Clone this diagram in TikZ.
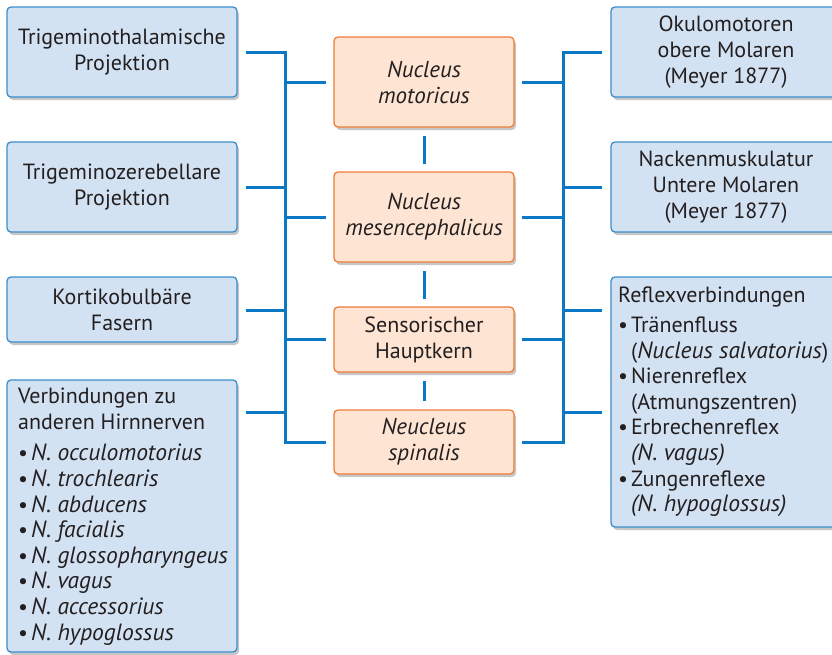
\documentclass[tikz,border=0pt]{standalone}
\usepackage{fontspec}
\setmainfont{PT Sans}
\usetikzlibrary{shadows}
\definecolor{bfill}{HTML}{D3E2F2}
\definecolor{bdraw}{HTML}{3C8DCB}
\definecolor{ofill}{HTML}{FDE4D3}
\definecolor{odraw}{HTML}{EF7D3A}
\definecolor{conn}{HTML}{0A78C2}
\definecolor{txt}{HTML}{231F20}
\newcommand{\bul}{\makebox[13pt][l]{•}}
\newcommand{\li}[1]{{\fontsize{23.5}{25.6}\selectfont\itshape #1}}
\newcommand{\ci}[1]{{\fontsize{23}{26}\selectfont\itshape #1}}
\begin{document}
\begin{tikzpicture}[x=1pt,y=-1pt,
  boxbase/.style={line width=1.3pt, rounded corners=4pt, inner sep=0pt, text=txt, align=center,
    font=\fontsize{22}{26}\selectfont,
    drop shadow={shadow xshift=2pt, shadow yshift=-3pt, opacity=0.22, fill=black}},
  bluebox/.style={boxbase, draw=bdraw, fill=bfill},
  orangebox/.style={boxbase, draw=odraw, fill=ofill},
  listtext/.style={anchor=north west, inner sep=0pt, align=left, text=txt, font=\fontsize{22}{25.6}\selectfont},
  conn/.style={draw=conn, line width=3pt}]
\useasboundingbox (0,0) rectangle (832,654);
\clip (0,0) rectangle (832,654);
% left
\node[bluebox, minimum width=230pt, minimum height=90pt] (L1) at (122,52) {Trigeminothalamische\\Projektion};
\node[bluebox, minimum width=230pt, minimum height=90pt] (L2) at (122,187) {Trigeminozerebellare\\Projektion};
\node[bluebox, minimum width=230pt, minimum height=65pt] (L3) at (122,309.5) {Kortikobulbäre\\Fasern};
\node[bluebox, minimum width=230pt, minimum height=272pt] (L4) at (122,516) {};
\node[listtext] (L4t) at (18,388) {Verbindungen zu\\anderen Hirnnerven\\[6pt]
\bul\li{N. occulomotorius}\\
\bul\li{N. trochlearis}\\
\bul\li{N. abducens}\\
\bul\li{N. facialis}\\
\bul\li{N. glossopharyngeus}\\
\bul\li{N. vagus}\\
\bul\li{N. accessorius}\\
\bul\li{N. hypoglossus}};
% centre
\node[orangebox, minimum width=180pt, minimum height=90pt] (C1) at (424,82) {\ci{Nucleus}\\\ci{motoricus}};
\node[orangebox, minimum width=180pt, minimum height=90pt] (C2) at (424,217) {\ci{Nucleus}\\\ci{mesencephalicus}};
\node[orangebox, minimum width=180pt, minimum height=65pt] (C3) at (424,339.5) {Sensorischer\\Hauptkern};
\node[orangebox, minimum width=180pt, minimum height=64pt] (C4) at (424,442) {\ci{Neucleus}\\\ci{spinalis}};
% right
\node[bluebox, minimum width=230pt, minimum height=90pt] (R1) at (726,52) {Okulomotoren\\obere Molaren\\(Meyer 1877)};
\node[bluebox, minimum width=230pt, minimum height=90pt] (R2) at (726,187) {Nackenmuskulatur\\Untere Molaren\\(Meyer 1877)};
\node[bluebox, minimum width=230pt, minimum height=250pt] (R3) at (726,402) {};
\node[listtext] (R3t) at (618,287) {Reflexverbindungen\\[4pt]
\bul Tränenfluss\\
\hspace*{13pt}(\li{Nucleus salvatorius})\\
\bul Nierenreflex\\
\hspace*{13pt}(Atmungszentren)\\
\bul Erbrechenreflex\\
\hspace*{13pt}\li{(N. vagus)}\\
\bul Zungenreflexe\\
\hspace*{13pt}\li{(N. hypoglossus)}};
% bus coordinates
\coordinate (lbT) at (285,52);
\coordinate (lbB) at (285,442);
\coordinate (rbT) at (563,52);
\coordinate (rbB) at (563,442);
\coordinate (y310) at (0,310);
\coordinate (y412) at (0,412);
% left bus
\draw[conn] ([xshift=8pt]L1.east) -- (lbT) -- (lbB) -- ([xshift=-7pt]C4.west);
\draw[conn, shorten <=8pt] (L2.east) -- (L2.east -| lbT);
\draw[conn] ([xshift=8pt]L3.east |- y310) -- (y310 -| lbT);
\draw[conn] ([xshift=8pt]L4.east |- y412) -- (y412 -| lbT);
\draw[conn, shorten >=7pt] (C1.west -| lbT) -- (C1.west);
\draw[conn, shorten >=7pt] (C2.west -| lbT) -- (C2.west);
\draw[conn, shorten >=7pt] (C3.west -| lbT) -- (C3.west);
% right bus
\draw[conn] ([xshift=7pt]C4.east) -- (rbB) -- (rbT) -- ([xshift=-8pt]R1.west);
\draw[conn, shorten <=7pt] (C1.east) -- (C1.east -| rbT);
\draw[conn, shorten <=7pt] (C2.east) -- (C2.east -| rbT);
\draw[conn, shorten <=7pt] (C3.east) -- (C3.east -| rbT);
\draw[conn, shorten >=8pt] (R2.west -| rbT) -- (R2.west);
\draw[conn] (y310 -| rbT) -- ([xshift=-8pt]R3.west |- y310);
\draw[conn] (y412 -| rbT) -- ([xshift=-8pt]R3.west |- y412);
% centre links
\draw[conn, shorten <=8pt, shorten >=7pt] (C1.south) -- (C2.north);
\draw[conn, shorten <=8pt, shorten >=7pt] (C2.south) -- (C3.north);
\draw[conn, shorten <=8pt, shorten >=8pt] (C3.south) -- (C4.north);
\end{tikzpicture}
\end{document}
